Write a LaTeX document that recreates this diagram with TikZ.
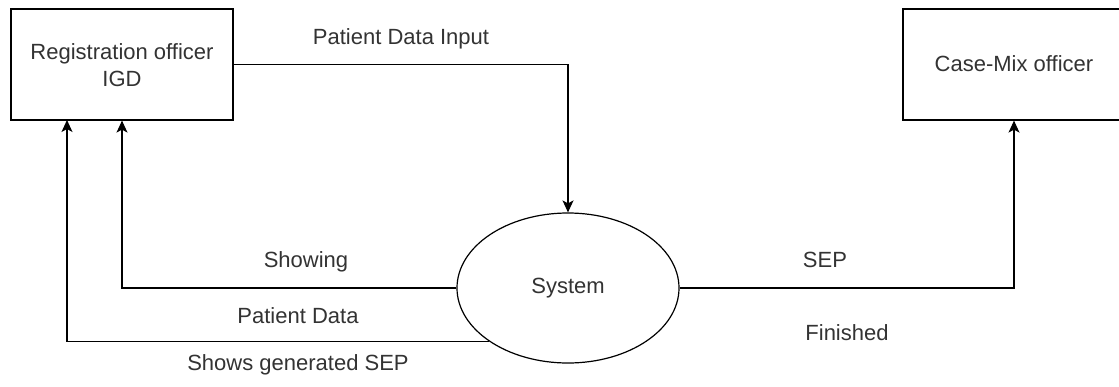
\documentclass[tikz,border=0pt]{standalone}
\usepackage{fontspec}
\setmainfont{Liberation Sans}
\usetikzlibrary{arrows.meta,shapes.geometric}
\definecolor{txtcol}{RGB}{51,51,51}
\tikzset{
  boxnode/.style={draw=black, line width=1.2bp, minimum width=222bp, minimum height=111bp, inner sep=0pt},
  sysnode/.style={draw=black, line width=1.2bp, ellipse, minimum width=222bp, minimum height=150bp, inner sep=0pt},
  lbl/.style={text=txtcol, font=\fontsize{22bp}{26bp}\selectfont, anchor=base, inner sep=0pt},
  arr/.style={draw=black, line width=1.2bp, -{Stealth[length=12bp,width=11bp,inset=3bp]}},
}
\begin{document}
\begin{tikzpicture}[x=1bp,y=-1bp]
\useasboundingbox (0,0) rectangle (1119,386);
\fill[white] (0,0) rectangle (1119,386);
\node[boxnode] (reg) at (122,64.5) {};
\node[lbl] (regt1) at (122,59) {Registration officer};
\node[lbl] (regt2) at (122,86) {IGD};
\node[boxnode] (cm) at (1014,64.5) {};
\node[lbl] (cmt) at (1014,71) {Case-Mix officer};
\node[sysnode] (sys) at (568,288) {};
\node[lbl] (syst) at (568,293) {System};
\coordinate (g2) at (67,120);
\draw[arr] (reg.east) -| (sys.north);
\draw[arr] (sys.west) -| (reg.south);
\draw[arr] (sys.south west) -| (g2);
\draw[arr] (sys.east) -| (cm.south);
\node[lbl] (l1) at (401,44) {Patient Data Input};
\node[lbl] (l2) at (306,267) {Showing};
\node[lbl] (l3) at (298,323) {Patient Data};
\node[lbl] (l4) at (298,370) {Shows generated SEP};
\node[lbl] (l5) at (825,267) {SEP};
\node[lbl] (l6) at (847,340) {Finished};
\end{tikzpicture}
\end{document}
